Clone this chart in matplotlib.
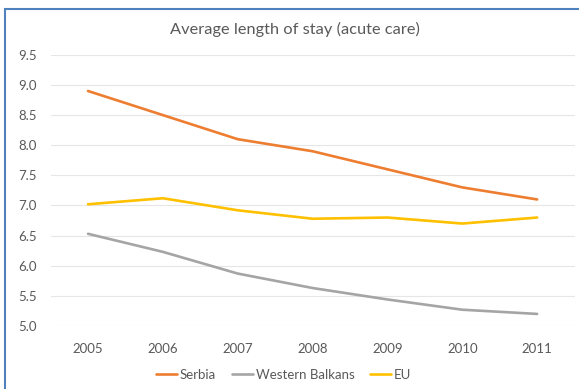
import matplotlib.pyplot as plt
from matplotlib.patches import Rectangle
import numpy as np

years = ['2005', '2006', '2007', '2008', '2009', '2010', '2011']
serbia = [8.9, 8.5, 8.1, 7.9, 7.6, 7.3, 7.1]
western_balkans = [6.53, 6.23, 5.87, 5.63, 5.44, 5.27, 5.2]
eu = [7.02, 7.12, 6.92, 6.78, 6.8, 6.7, 6.8]

plt.rcParams['font.family'] = ['Lato', 'DejaVu Sans']
txt = '#595959'

fig = plt.figure(figsize=(5.79, 3.89), dpi=100)
ax = fig.add_axes([0.0874, 0.162, 0.905, 0.697])

x = np.arange(len(years))
ax.plot(x, serbia, color='#ED7D31', lw=1.9, label='Serbia', solid_capstyle='round')
ax.plot(x, western_balkans, color='#A5A5A5', lw=1.9, label='Western Balkans', solid_capstyle='round')
ax.plot(x, eu, color='#FFC000', lw=1.9, label='EU', solid_capstyle='round')

ax.set_xlim(-0.5, 6.5)
ax.set_ylim(5.0, 9.5)
ax.set_yticks(np.arange(5.0, 9.51, 0.5))
ax.set_yticklabels(['%.1f' % v for v in np.arange(5.0, 9.51, 0.5)])
ax.set_xticks(x)
ax.set_xticklabels(years)
ax.grid(axis='y', color='#E6E6E6', lw=0.8)
ax.set_axisbelow(True)
for s in ax.spines.values():
    s.set_visible(False)
ax.tick_params(length=0, colors=txt, labelsize=9.5)
ax.tick_params(axis='x', pad=12)
ax.tick_params(axis='y', pad=10)

fig.text(0.51, 0.925, 'Average length of stay (acute care)', ha='center', va='center',
         color=txt, fontsize=11.8)

ax.legend(loc='upper center', bbox_to_anchor=(0.445, -0.115), ncol=3, frameon=False,
          fontsize=9.5, labelcolor=txt, handlelength=1.6, handletextpad=0.2,
          columnspacing=1.2)

# chart frame
fig.patches.append(Rectangle((0.0086, -0.1), 1.2, 0.977 + 0.1, transform=fig.transFigure,
                             fill=False, edgecolor='#4F81BD', lw=1.5))

fig.savefig('out.png', dpi=100)
